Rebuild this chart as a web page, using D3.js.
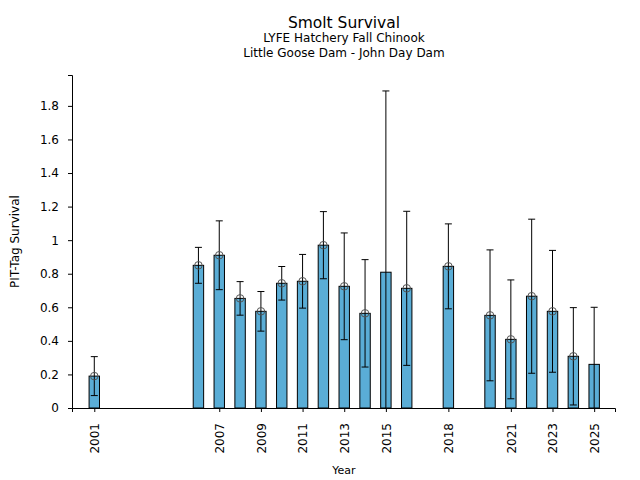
<!DOCTYPE html>
<html>
<head>
<meta charset="utf-8">
<title>Smolt Survival</title>
<script src="https://d3js.org/d3.v7.min.js"></script>
<style>
  body { margin: 0; background: #fff; }
  text { font-family: "DejaVu Sans", sans-serif; fill: #000; }
</style>
</head>
<body>
<div id="chart"></div>
<script>
// survival estimate per year, +/- error (symmetric)
var years    = [2001, 2006, 2007, 2008, 2009, 2010, 2011, 2012, 2013, 2014, 2015, 2016, 2018, 2020, 2021, 2022, 2023, 2024, 2025];
var survival = [0.19, 0.85, 0.91, 0.653, 0.576, 0.743, 0.755, 0.97, 0.725, 0.564, 0.809, 0.713, 0.844, 0.552, 0.409, 0.666, 0.576, 0.308, 0.26];
var errors   = [0.116, 0.107, 0.205, 0.10, 0.118, 0.10, 0.16, 0.20, 0.318, 0.32, 1.08, 0.459, 0.253, 0.39, 0.354, 0.459, 0.363, 0.29, 0.34];
var marker   = [1, 1, 1, 1, 1, 1, 1, 1, 1, 1, 0, 1, 1, 1, 1, 1, 1, 1, 0];
var xTicks   = [2001, 2007, 2009, 2011, 2013, 2015, 2018, 2021, 2023, 2025];
var yTicks   = [0, 0.2, 0.4, 0.6, 0.8, 1, 1.2, 1.4, 1.6, 1.8];

var width = 640, height = 480;
var mLeft = 72, mRight = 615, mTop = 75, mBottom = 408;

var svg = d3.select('#chart').append('svg')
    .attr('width', width)
    .attr('height', height);

var x = d3.scaleLinear().domain([1999.93, 2026.0]).range([mLeft, mRight]);
var y = d3.scaleLinear().domain([0, 1.984]).range([mBottom, mTop]);
var barW = x(2001.5) - x(2001);

svg.append('clipPath').attr('id', 'plot')
  .append('rect')
    .attr('x', mLeft).attr('y', mTop)
    .attr('width', mRight - mLeft).attr('height', mBottom - mTop);

var data = years.map(function(yr, i) {
    return {year: yr, v: survival[i], e: errors[i], m: marker[i]};
});

var g = svg.append('g').attr('clip-path', 'url(#plot)');

// bars
g.selectAll('rect.bar')
    .data(data)
    .enter().append('rect')
    .attr('class', 'bar')
    .attr('x', d => x(d.year) - barW / 2)
    .attr('y', d => y(d.v))
    .attr('width', barW)
    .attr('height', d => y(0) - y(d.v))
    .attr('fill', '#5aadd6')
    .attr('stroke', '#000')
    .attr('stroke-width', 1);

// error bars
var eb = g.selectAll('g.err')
    .data(data)
    .enter().append('g')
    .attr('class', 'err');

eb.append('line')
    .attr('x1', d => x(d.year)).attr('x2', d => x(d.year))
    .attr('y1', d => y(d.v + d.e)).attr('y2', d => y(d.v - d.e))
    .attr('stroke', '#000').attr('stroke-width', 1);

eb.append('line')
    .attr('x1', d => x(d.year) - 3.5).attr('x2', d => x(d.year) + 3.5)
    .attr('y1', d => y(d.v + d.e)).attr('y2', d => y(d.v + d.e))
    .attr('stroke', '#000').attr('stroke-width', 1);

eb.append('line')
    .attr('x1', d => x(d.year) - 3.5).attr('x2', d => x(d.year) + 3.5)
    .attr('y1', d => y(d.v - d.e)).attr('y2', d => y(d.v - d.e))
    .attr('stroke', '#000').attr('stroke-width', 1);

// open circle markers
g.selectAll('circle')
    .data(data.filter(d => d.m))
    .enter().append('circle')
    .attr('cx', d => x(d.year))
    .attr('cy', d => y(d.v))
    .attr('r', 3.8)
    .attr('fill', 'none')
    .attr('stroke', '#555')
    .attr('stroke-width', 1);

// axes
var xAxis = svg.append('g')
    .attr('transform', 'translate(0,' + mBottom + ')')
    .call(d3.axisBottom(x).tickValues(xTicks).tickFormat(d3.format('d')).tickSizeOuter(0).tickSize(4));
xAxis.selectAll('text')
    .attr('transform', 'rotate(-90)')
    .attr('text-anchor', 'end')
    .attr('x', -15)
    .attr('y', 0)
    .attr('dy', '0.35em')
    .style('font-size', '12px');

var yAxis = svg.append('g')
    .attr('transform', 'translate(' + mLeft + ',0)')
    .call(d3.axisLeft(y).tickValues(yTicks).tickFormat(d => String(+d.toFixed(1))).tickSizeOuter(0).tickSize(4));
yAxis.selectAll('text').style('font-size', '12px').attr('x', -13);

svg.selectAll('.domain').attr('stroke', '#000');
svg.selectAll('.tick line').attr('stroke', '#000');

// titles
svg.append('text').attr('x', 344).attr('y', 28).attr('text-anchor', 'middle')
    .style('font-size', '15.5px').text('Smolt Survival');
svg.append('text').attr('x', 344).attr('y', 42).attr('text-anchor', 'middle')
    .style('font-size', '12px').text('LYFE Hatchery Fall Chinook');
svg.append('text').attr('x', 344).attr('y', 57).attr('text-anchor', 'middle')
    .style('font-size', '12px').text('Little Goose Dam - John Day Dam');

svg.append('text').attr('x', 344).attr('y', 474).attr('text-anchor', 'middle')
    .style('font-size', '11px').text('Year');
svg.append('text')
    .attr('transform', 'translate(19,' + ((mTop + mBottom) / 2) + ') rotate(-90)')
    .attr('text-anchor', 'middle')
    .style('font-size', '12px').text('PIT-Tag Survival');
</script>
</body>
</html>
